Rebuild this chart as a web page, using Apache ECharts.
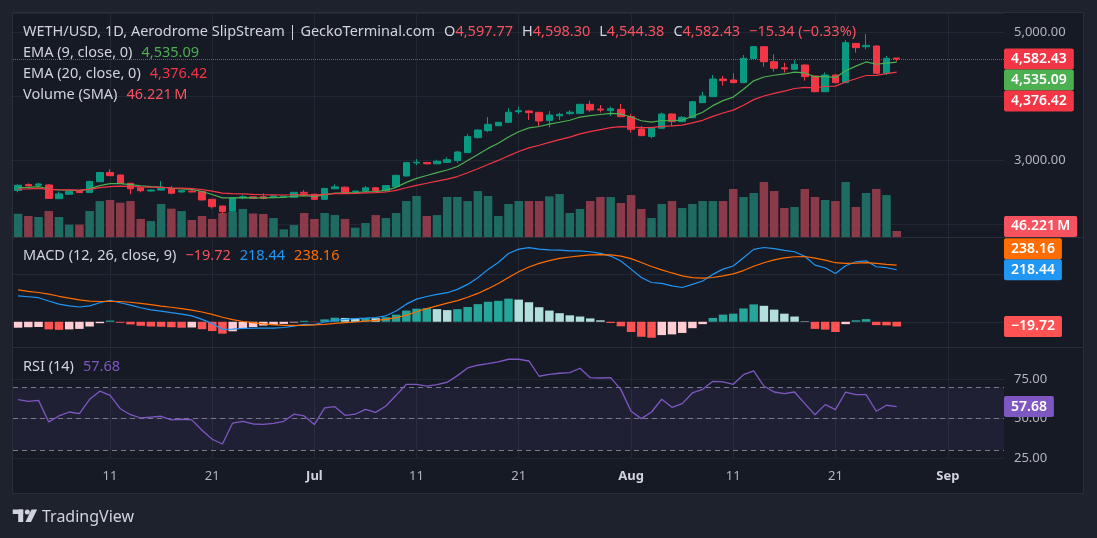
<!DOCTYPE html>
<html>
<head>
<meta charset="utf-8">
<script src="https://cdn.jsdelivr.net/npm/echarts@6/dist/echarts.min.js"></script>
<style>
html,body{margin:0;padding:0;background:#1e222d;overflow:hidden;}
#c{width:1097px;height:538px;}
</style>
</head>
<body>
<div id="c"></div>
<script>
// ---------- DATA ----------
const dates = [
'06-02','06-03','06-04','06-05','06-06','06-07','06-08','06-09','06-10','06-11','06-12','06-13','06-14','06-15','06-16','06-17','06-18','06-19','06-20','06-21','06-22','06-23','06-24','06-25','06-26','06-27','06-28','06-29','06-30',
'07-01','07-02','07-03','07-04','07-05','07-06','07-07','07-08','07-09','07-10','07-11','07-12','07-13','07-14','07-15','07-16','07-17','07-18','07-19','07-20','07-21','07-22','07-23','07-24','07-25','07-26','07-27','07-28','07-29','07-30','07-31',
'08-01','08-02','08-03','08-04','08-05','08-06','08-07','08-08','08-09','08-10','08-11','08-12','08-13','08-14','08-15','08-16','08-17','08-18','08-19','08-20','08-21','08-22','08-23','08-24','08-25','08-26','08-27','08-28','08-29','08-30','08-31',
'09-01','09-02','09-03','09-04','09-05','09-06'];

const tickDates  = ['06-11','06-21','07-01','07-11','07-21','08-01','08-11','08-21','09-01'];
const tickTexts  = ['11','21','Jul','11','21','Aug','11','21','Sep'];
const priceTicks = [3000, 5000];
const rsiLevels  = [70, 50, 30];

const open = [2530,2620,2610,2615,2400,2470,2515,2495,2665,2810,
2770,2640,2570,2520,2535,2555,2505,2520,2510,2390,
2285,2205,2415,2430,2430,2422,2425,2422,2500,2470,
2390,2555,2580,2510,2520,2570,2525,2590,2755,2960,
2965,2945,2968,2995,3120,3355,3463,3541,3593,3760,
3770,3750,3620,3695,3730,3733,3875,3800,3776,3797,
3682,3490,3370,3500,3724,3604,3665,3900,3994,4270,
4255,4213,4590,4775,4541,4447,4421,4489,4317,4072,
4333,4213,4827,4775,4786,4359,4597.77];

const close = [2610,2600,2630,2405,2475,2515,2495,2670,2810,2760,
2640,2555,2525,2535,2560,2485,2525,2505,2380,2275,
2200,2415,2430,2405,2405,2442,2440,2500,2485,2390,
2560,2585,2495,2520,2570,2525,2605,2765,2963,2970,
2945,2985,3010,3130,3370,3473,3562,3593,3750,3775,
3745,3614,3708,3718,3752,3875,3786,3786,3807,3682,
3484,3385,3510,3724,3604,3672,3916,4005,4270,4244,
4213,4593,4775,4541,4437,4427,4500,4307,4072,4333,
4213,4838,4760,4796,4359,4593,4582.43];

const low = [2500,2595,2600,2400,2395,2460,2490,2490,2660,2755,
2630,2470,2500,2515,2530,2470,2495,2500,2375,2245,
2160,2200,2390,2400,2390,2410,2418,2415,2440,2385,
2385,2550,2490,2500,2510,2510,2505,2585,2750,2925,
2940,2940,2960,2960,3115,3340,3440,3530,3590,3724,
3630,3536,3515,3630,3708,3725,3760,3745,3692,3675,
3432,3380,3343,3495,3536,3595,3660,3895,3990,4166,
4205,4205,4585,4463,4385,4370,4415,4244,4065,4065,
4205,4205,4682,4734,4350,4333,4544.38];

const high = [2625,2640,2650,2630,2510,2520,2520,2680,2815,2860,
2775,2650,2575,2545,2675,2600,2535,2530,2515,2395,
2290,2420,2460,2440,2484,2460,2448,2505,2535,2475,
2570,2625,2590,2530,2600,2580,2615,2775,2975,3020,
2975,3010,3050,3150,3410,3485,3675,3600,3812,3838,
3780,3755,3770,3745,3786,3880,3932,3864,3838,3880,
3724,3536,3520,3744,3735,3692,3925,4072,4333,4317,
4359,4645,4786,4780,4656,4525,4567,4495,4320,4375,
4340,4880,4830,4973,4790,4630,4598.30];

const volume = [179,162,154,200,154,95,95,200,277,285,
264,277,139,123,254,218,200,131,162,139,
185,193,216,181,177,146,59,92,185,139,
185,169,139,72,108,169,146,185,277,316,
162,169,308,308,277,354,316,162,254,277,
277,277,313,331,185,216,277,308,308,262,
323,216,146,254,277,223,254,277,277,277,
370,308,339,424,354,223,231,370,308,285,
277,424,231,339,370,323,46.221];

const ema9 = [2572,2578,2588,2551,2536,2532,2525,2554,2605,2636,
2637,2621,2602,2589,2583,2563,2555,2545,2512,2465,
2412,2413,2416,2414,2412,2418,2422,2438,2447,2436,
2461,2486,2488,2494,2509,2512,2531,2578,2655,2718,
2763,2807,2848,2904,2997,3092,3186,3267,3364,3446,
3506,3528,3564,3595,3626,3676,3698,3716,3734,3724,
3676,3618,3596,3622,3618,3629,3686,3750,3854,3932,
3988,4109,4242,4302,4329,4349,4379,4365,4306,4311,
4291,4400,4472,4537,4501,4519,4535.09];

const ema20 = [2550,2555,2562,2547,2540,2538,2534,2547,2572,2590,
2595,2591,2585,2580,2578,2569,2565,2559,2542,2517,
2487,2480,2475,2468,2462,2460,2458,2462,2464,2457,
2467,2478,2480,2484,2492,2495,2505,2530,2571,2609,
2641,2674,2706,2746,2805,2869,2935,2998,3070,3137,
3195,3235,3280,3322,3363,3412,3448,3480,3511,3527,
3523,3510,3510,3530,3537,3550,3585,3625,3686,3739,
3784,3861,3948,4005,4046,4082,4122,4140,4134,4153,
4159,4224,4275,4325,4328,4353,4376.42];

const macd = [109,105,101,87,74,67,62,67,80,90,
80,70,59,50,45,38,32,25,10,-8,
-32,-31,-28,-27,-27,-27,-24,-18,-11,-12,
-1,6,10,13,15,18,25,45,74,95,
106,115,122,136,157,185,220,249,287,305,
311,305,302,301,298,298,294,287,276,255,
221,186,165,161,151,144,157,171,199,221,
234,269,304,312,307,300,294,275,238,227,
203,235,252,256,231,227,218.44];

const signal = [134,128,123,116,107,99,92,87,85,86,
85,82,77,72,66,61,55,49,41,31,
19,9,1,-4,-9,-12,-15,-15,-15,-13,
-11,-7,-4,-1,3,6,10,17,28,42,
55,67,78,89,103,119,139,161,186,210,
230,245,257,266,272,277,281,282,281,276,
265,249,232,218,205,193,185,183,186,193,
201,215,233,248,260,268,273,274,267,259,
248,245,246,248,245,241,238.16];

const hist = [-25,-23,-22,-32,-34,-32,-30,-20,-6,5,
-4,-11,-17,-20,-21,-23,-25,-24,-31,-39,
-50,-40,-27,-22,-16,-14,-9,-3,4,-1,
10,17,16,14,16,15,19,30,47,55,
57,53,49,53,62,74,84,88,97,93,
82,61,47,36,27,22,14,6,-5,-19,
-43,-63,-67,-56,-53,-47,-27,-10,16,30,
34,56,73,67,51,34,22,2,-30,-33,
-43,-10,6,11,-14,-15,-19.72];

const rsi = [62,61,61.6,47.9,51.7,54.2,53.2,62.3,67.4,64.8,
56.3,52.5,50.4,51,51.5,49.2,49.6,49.2,42.6,36.9,
33.9,47.2,48.3,46.6,46.4,47,48.3,52.8,51.7,46.2,
56.8,57.6,52.1,52.8,55.9,54,58,64.8,71.8,71.8,
70.7,71.6,73.1,77.3,82.2,83.9,84.9,86,87.7,87.7,
86.6,76.9,78.1,78.8,79.2,82,76,75.8,76,68.4,
54.7,50,54.2,62.3,57.2,59.5,66.3,68.6,73.7,73.3,
71.8,77.9,80.3,70.7,66.9,65.9,66.9,59.5,52.5,58.9,
55.7,66.9,65.2,65.2,54.7,58.5,57.68];

// ---------- STYLE ----------
const FONT = '"Noto Sans", "Open Sans", sans-serif';
const FS = 14.5;
const UP = '#089981', DN = '#f23645';
const VOL_UP = '#1f6b61', VOL_DN = '#8a3a48';
const GRIDC = '#232733';
const TXT = '#d1d4dc', AXT = '#b2b5be';
const last = close.length - 1;

const fmt = v => v.toLocaleString('en-US', {minimumFractionDigits: 2, maximumFractionDigits: 2}).replace('-', '\u2212');
const tickMap = {};
tickDates.forEach((d, i) => tickMap[d] = tickTexts[i]);

const candleData = open.map((o, i) => [o, close[i], low[i], high[i]]);
const volData = volume.map((v, i) => ({value: v, itemStyle: {color: close[i] >= open[i] ? VOL_UP : VOL_DN}}));
const histData = hist.map((h, i) => {
  const prev = i > 0 ? hist[i - 1] : null;
  let c;
  if (h >= 0) c = (prev === null || h >= prev) ? '#26a69a' : '#b2dfdb';
  else c = (prev === null || h > prev) ? '#ffcdd2' : '#ff5252';
  return {value: h, itemStyle: {color: c}};
});

const vLines = tickDates.map(d => ({xAxis: d}));
const vLineMark = {
  silent: true, symbol: 'none', z: 0, animation: false,
  label: {show: false},
  lineStyle: {color: GRIDC, type: 'solid', width: 1},
  data: vLines
};

const chg = close[last] - open[last];
const pct = chg / open[last] * 100;

const catAxis = (gi, showLabel) => ({
  type: 'category', gridIndex: gi, data: dates, boundaryGap: true,
  axisLine: {show: false}, axisTick: {show: false}, splitLine: {show: false},
  axisPointer: {show: false},
  axisLabel: showLabel ? {
    show: true, color: AXT, fontSize: 13, fontFamily: FONT, margin: 12,
    interval: (idx, val) => tickMap[val] !== undefined,
    formatter: val => {
      const t = tickMap[val];
      if (t === undefined) return '';
      return /[A-Za-z]/.test(t) ? '{m|' + t + '}' : t;
    },
    rich: {m: {fontWeight: 'bold', color: TXT, fontSize: 13, fontFamily: FONT}}
  } : {show: false}
});

const rs = c => ({color: c, fontSize: FS, fontFamily: FONT});
const title = (top, text, rich) => ({
  left: 23, top: top, padding: 0, text: text,
  textStyle: {fontFamily: FONT, fontSize: FS, fontWeight: 'normal', color: TXT, lineHeight: 18,
    rich: Object.assign({t: rs(TXT), s: {width: 9}}, rich)}
});

const option = {
  animation: false,
  backgroundColor: 'transparent',
  textStyle: {fontFamily: FONT},
  title: [
    title(23, '{t|WETH/USD, 1D, Aerodrome SlipStream | GeckoTerminal.com}{s| }{t|O}{r|' + fmt(open[last]) + '}{s| }{t|H}{r|' + fmt(high[last]) + '}{s| }{t|L}{r|' + fmt(low[last]) + '}{s| }{t|C}{r|' + fmt(close[last]) + '}{s| }{r|' + fmt(chg) + ' (' + fmt(pct) + '%)}',
      {r: rs('#f7525f')}),
    title(44, '{t|EMA (9, close, 0)}{s| }{g|' + fmt(ema9[last]) + '}', {g: rs('#4caf50')}),
    title(65, '{t|EMA (20, close, 0)}{s| }{r|' + fmt(ema20[last]) + '}', {r: rs('#f23645')}),
    title(86, '{t|Volume (SMA)}{s| }{r|' + volume[last].toFixed(3) + '\u2009M}', {r: rs('#f7525f')}),
    title(247, '{t|MACD (12, 26, close, 9)}{s| }{h|' + fmt(hist[last]) + '}{s| }{m|' + fmt(macd[last]) + '}{s| }{o|' + fmt(signal[last]) + '}',
      {h: rs('#f7525f'), m: rs('#2196f3'), o: rs('#ff6d00')}),
    title(358, '{t|RSI (14)}{s| }{p|' + fmt(rsi[last]) + '}', {p: rs('#7e57c2')})
  ],
  grid: [
    {left: 13, right: 93, top: 13, height: 224},
    {left: 13, right: 93, top: 237, height: 110},
    {left: 13, right: 93, top: 347, height: 111}
  ],
  xAxis: [catAxis(0, false), catAxis(1, false), catAxis(2, true)],
  yAxis: [
    {type: 'value', gridIndex: 0, position: 'right', min: 1801.6, max: 5301.6, splitNumber: 3,
      axisLine: {show: false}, axisTick: {show: false},
      splitLine: {lineStyle: {color: GRIDC}},
      axisLabel: {color: AXT, fontSize: 13, fontFamily: FONT, margin: 10, showMinLabel: false, showMaxLabel: false,
        formatter: v => priceTicks.indexOf(v) >= 0 ? fmt(v) : ''}},
    {type: 'value', gridIndex: 0, min: 0, max: 1725, show: false, splitLine: {show: false}},
    {type: 'value', gridIndex: 1, position: 'right', min: -106, max: 356, splitNumber: 2,
      axisLine: {show: false}, axisTick: {show: false}, axisLabel: {show: false},
      splitLine: {lineStyle: {color: GRIDC}}},
    {type: 'value', gridIndex: 2, position: 'right', min: 25, max: 95.48, interval: 25,
      axisLine: {show: false}, axisTick: {show: false},
      splitLine: {lineStyle: {color: GRIDC}},
      axisLabel: {color: AXT, fontSize: 13, fontFamily: FONT, margin: 10, showMaxLabel: false, formatter: v => fmt(v)}}
  ],
  series: [
    {type: 'bar', name: 'Volume', xAxisIndex: 0, yAxisIndex: 1, data: volData, barWidth: 8.5, z: 1,
      markLine: vLineMark},
    {type: 'candlestick', name: 'WETH', xAxisIndex: 0, yAxisIndex: 0, data: candleData, barWidth: 7, z: 3,
      itemStyle: {color: UP, color0: DN, borderColor: UP, borderColor0: DN, borderWidth: 1},
      markLine: {silent: true, symbol: 'none', label: {show: false}, animation: false,
        lineStyle: {color: DN, type: 'dotted', width: 1, opacity: 0.9},
        data: [{yAxis: close[last]}]}},
    {type: 'line', name: 'EMA9', xAxisIndex: 0, yAxisIndex: 0, data: ema9, showSymbol: false, z: 4,
      lineStyle: {color: '#4caf50', width: 1.2}},
    {type: 'line', name: 'EMA20', xAxisIndex: 0, yAxisIndex: 0, data: ema20, showSymbol: false, z: 4,
      lineStyle: {color: '#f23645', width: 1.2}},
    {type: 'bar', name: 'Histogram', xAxisIndex: 1, yAxisIndex: 2, data: histData, barWidth: 8.5, z: 2,
      markLine: vLineMark},
    {type: 'line', name: 'MACD', xAxisIndex: 1, yAxisIndex: 2, data: macd, showSymbol: false, z: 4,
      lineStyle: {color: '#2196f3', width: 1.2}},
    {type: 'line', name: 'Signal', xAxisIndex: 1, yAxisIndex: 2, data: signal, showSymbol: false, z: 4,
      lineStyle: {color: '#ff6d00', width: 1.2}},
    {type: 'line', name: 'RSI', xAxisIndex: 2, yAxisIndex: 3, data: rsi, showSymbol: false, z: 4,
      lineStyle: {color: '#7e57c2', width: 1.3},
      markArea: {silent: true, itemStyle: {color: 'rgba(126,87,194,0.10)'}, data: [[{yAxis: rsiLevels[2]}, {yAxis: rsiLevels[0]}]]},
      markLine: {silent: true, symbol: 'none', z: 0, label: {show: false}, animation: false,
        lineStyle: {color: GRIDC, type: 'solid', width: 1},
        data: vLines.concat(rsiLevels.map(l => ({yAxis: l, lineStyle: {color: '#787b86', type: [5, 4], width: 1}})))}}
  ]
};

const staticGraphic = [
  {type: 'rect', id: 'panel', z: -10, silent: true, shape: {x: 12.5, y: 12.5, width: 1071, height: 481}, style: {fill: '#161a25', stroke: '#2a2e39', lineWidth: 1}},
  {type: 'line', id: 'sep1', z: 10, silent: true, shape: {x1: 13, y1: 237.5, x2: 1083, y2: 237.5}, style: {stroke: '#2a2e39', lineWidth: 1}},
  {type: 'line', id: 'sep2', z: 10, silent: true, shape: {x1: 13, y1: 347.5, x2: 1083, y2: 347.5}, style: {stroke: '#2a2e39', lineWidth: 1}},
  {type: 'line', id: 'sep3', z: 10, silent: true, shape: {x1: 13, y1: 458.5, x2: 1004, y2: 458.5}, style: {stroke: '#20242f', lineWidth: 1}},
  {type: 'rect', id: 'lg1', z: 10, silent: true, shape: {x: 12.7, y: 509.5, width: 10.5, height: 4.5}, style: {fill: TXT}},
  {type: 'rect', id: 'lg2', z: 10, silent: true, shape: {x: 18.2, y: 509.5, width: 5, height: 12.5}, style: {fill: TXT}},
  {type: 'circle', id: 'lg3', z: 10, silent: true, shape: {cx: 27.3, cy: 512, r: 2.5}, style: {fill: TXT}},
  {type: 'polygon', id: 'lg4', z: 10, silent: true, shape: {points: [[31.5, 509.5], [37.2, 509.5], [31, 522], [25.4, 522]]}, style: {fill: TXT}},
  {type: 'text', id: 'lgt', z: 10, silent: true, x: 42, y: 517, style: {text: 'TradingView', fill: TXT, font: '16px ' + FONT, verticalAlign: 'middle', align: 'left'}}
];
option.graphic = staticGraphic;

const chart = echarts.init(document.getElementById('c'), null, {renderer: 'canvas'});
chart.setOption(option);

// value tags on the right scale, stacked like TradingView
const panes = [
  {top: 13, bottom: 237, tags: [
    {axis: 0, value: close[last], text: fmt(close[last]), color: '#f23645'},
    {axis: 0, value: ema9[last], text: fmt(ema9[last]), color: '#4caf50'},
    {axis: 0, value: ema20[last], text: fmt(ema20[last]), color: '#f23645'}]},
  {top: 13, bottom: 237, tags: [
    {axis: 1, value: volume[last], text: volume[last].toFixed(3) + '\u2009M', color: '#f7525f'}]},
  {top: 237, bottom: 347, tags: [
    {axis: 2, value: hist[last], text: fmt(hist[last]), color: '#ff5252'},
    {axis: 2, value: macd[last], text: fmt(macd[last]), color: '#2196f3'},
    {axis: 2, value: signal[last], text: fmt(signal[last]), color: '#ff6d00'}]},
  {top: 347, bottom: 458, tags: [
    {axis: 3, value: rsi[last], text: fmt(rsi[last]), color: '#7e57c2'}]}
];
const H = 21;
const tagEls = [];
let k = 0;
panes.forEach(p => {
  const placed = [];
  p.tags.forEach(t => {
    let y = chart.convertToPixel({yAxisIndex: t.axis}, t.value);
    for (let g = 0; g < 10; g++) {
      let moved = false;
      placed.forEach(q => {
        if (Math.abs(y - q.y) < H) { y = t.value > q.value ? q.y - H : q.y + H; moved = true; }
      });
      if (!moved) break;
    }
    y = Math.min(Math.max(y, p.top + H / 2), p.bottom - H / 2);
    placed.push({y: y, value: t.value});
    tagEls.push({type: 'text', id: 'tag' + (k++), z: 100, silent: true, x: 1004, y: y,
      style: {text: t.text, fill: '#ffffff', font: '600 14px ' + FONT, backgroundColor: t.color,
        padding: [3, 7, 3, 7], borderRadius: 2, lineHeight: 15, align: 'left', verticalAlign: 'middle'}});
  });
});
chart.setOption({graphic: staticGraphic.concat(tagEls)});
</script>
</body>
</html>
